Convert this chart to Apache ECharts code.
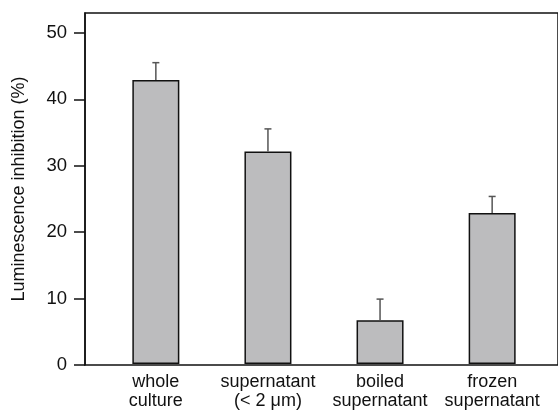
<!DOCTYPE html>
<html>
<head>
<meta charset="utf-8">
<script src="https://cdn.jsdelivr.net/npm/echarts@6/dist/echarts.min.js"></script>
<style>
  html, body { margin: 0; padding: 0; background: #fff; }
  #chart { width: 558px; height: 411px; }
</style>
</head>
<body>
<div id="chart"></div>
<script>
// Treatments and mean luminescence inhibition (%) with upper error limits
const categories = ['whole\nculture', 'supernatant\n(< 2 μm)', 'boiled\nsupernatant', 'frozen\nsupernatant'];
const meanValues = [42.9, 32.1, 6.6, 22.8];
const upperValues = [45.5, 35.5, 9.8, 25.3];
const yTicks = [0, 10, 20, 30, 40, 50];

const FONT = '"Liberation Sans", Arial, Helvetica, sans-serif';
const Y_MIN = 0, Y_MAX = 53;

const chart = echarts.init(document.getElementById('chart'), null, { renderer: 'canvas' });

const errorData = upperValues.map((u, i) => [i, meanValues[i], u]);

chart.setOption({
  animation: false,
  backgroundColor: '#fff',
  textStyle: { fontFamily: FONT },
  grid: [
    // frame with the value axis
    { left: 85, top: 13, right: -10, bottom: 46, show: true, borderColor: '#111', borderWidth: 1.5, backgroundColor: 'transparent' },
    // bars and category labels
    { left: 99.8, top: 13, right: 9.8, bottom: 46 }
  ],
  xAxis: [
    { gridIndex: 0, type: 'value', show: false, min: 0, max: 1 },
    {
      gridIndex: 1, type: 'category', data: categories,
      axisLine: { show: false }, axisTick: { show: false },
      axisLabel: { color: '#111', fontSize: 18, lineHeight: 19, margin: 9, fontFamily: FONT, interval: 0 }
    }
  ],
  yAxis: [
    {
      gridIndex: 0, type: 'value', min: Y_MIN, max: Y_MAX, interval: 10,
      axisLine: { show: true, lineStyle: { color: '#111', width: 1.5 } },
      axisTick: { show: true, inside: false, length: 11, lineStyle: { color: '#111', width: 1.5 }, customValues: yTicks },
      axisLabel: { color: '#111', fontSize: 18.5, margin: 18, fontFamily: FONT, customValues: yTicks },
      splitLine: { show: false },
      name: 'Luminescence inhibition (%)',
      nameLocation: 'middle', nameGap: 57,
      nameTextStyle: { color: '#111', fontSize: 18, fontFamily: FONT }
    },
    { gridIndex: 1, type: 'value', min: Y_MIN, max: Y_MAX, show: false }
  ],
  series: [
    {
      type: 'bar', xAxisIndex: 1, yAxisIndex: 1,
      data: meanValues, barWidth: 47,
      itemStyle: { color: '#bcbcbe', borderColor: '#111', borderWidth: 1.5 }
    },
    {
      type: 'custom', xAxisIndex: 1, yAxisIndex: 1,
      data: errorData, z: 3,
      renderItem: function (params, api) {
        const x = api.value(0);
        const base = api.coord([x, api.value(1)]);
        const top = api.coord([x, api.value(2)]);
        const half = 3.5;
        const style = { stroke: '#555', lineWidth: 1.5 };
        return {
          type: 'group',
          children: [
            { type: 'line', shape: { x1: base[0], y1: base[1], x2: top[0], y2: top[1] }, style: style },
            { type: 'line', shape: { x1: top[0] - half, y1: top[1], x2: top[0] + half, y2: top[1] }, style: style }
          ]
        };
      }
    }
  ]
});
</script>
</body>
</html>
